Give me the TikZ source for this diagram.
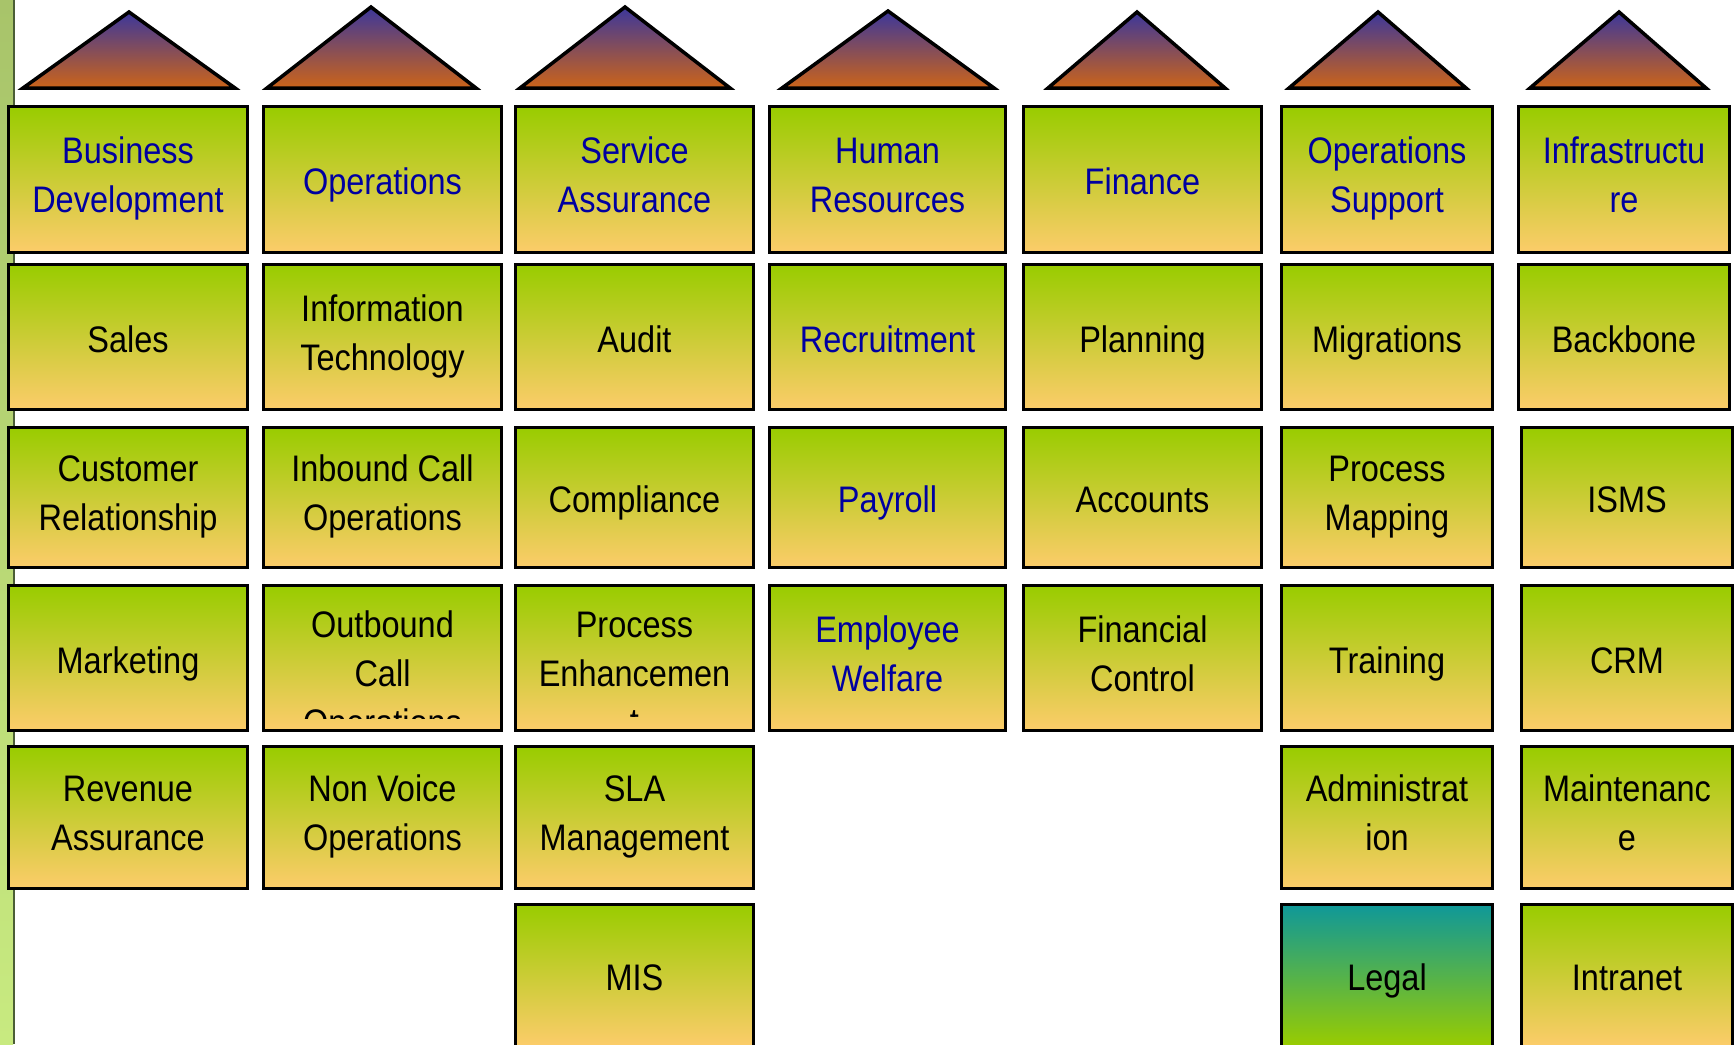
\documentclass[tikz,border=0pt]{standalone}
\usepackage{fontspec}
\setmainfont[FakeStretch=0.88]{Liberation Sans}

\definecolor{boxgreen}{RGB}{153,204,0}
\definecolor{boxsand}{RGB}{252,204,106}
\definecolor{roofblue}{RGB}{60,55,155}
\definecolor{rooforange}{RGB}{204,100,25}
\definecolor{legalteal}{RGB}{15,152,152}
\definecolor{labelblue}{RGB}{0,0,160}
\definecolor{stripgreen}{RGB}{168,196,106}
\definecolor{stripleaf}{RGB}{200,234,128}
\definecolor{stripedge}{RGB}{75,94,54}

\newcommand{\unitstrut}{\rule[-2.65pt]{0pt}{13.9pt}}

\tikzset{
    lbl/.style={align=center, inner sep=0pt, font=\fontsize{10.5}{13.9}\selectfont,
        execute at begin node=\unitstrut, execute at end node=\unitstrut},
    unit/.style={lbl, draw, line width=0.85pt, top color=boxgreen, bottom color=boxsand},
    head/.style={unit, text=labelblue},
    legalunit/.style={unit, top color=legalteal, bottom color=boxgreen},
    roof/.style={draw, line width=1pt, top color=roofblue, bottom color=rooforange},
    c1/.style={minimum width=2.38cm},
    c2/.style={minimum width=2.37cm},
    c3/.style={minimum width=2.37cm},
    c4/.style={minimum width=2.35cm},
    c5/.style={minimum width=2.37cm},
    c6/.style={minimum width=2.11cm},
    c7/.style={minimum width=2.11cm},
    r1/.style={minimum height=1.45cm},
    r2/.style={minimum height=1.44cm},
    r3/.style={minimum height=1.40cm},
    r4/.style={minimum height=1.44cm},
    r5/.style={minimum height=1.41cm},
    r6/.style={minimum height=1.41cm}
}

\begin{document}
\begin{tikzpicture}[x=0.01cm, y=-0.01cm]
        \clip (0,0) rectangle (1734,1044);
        \fill[white] (0,0) rectangle (1734,1044);

        % side strip
        \shade[top color=stripgreen, bottom color=stripleaf] (0,0) rectangle (13,1044);
        \draw[stripedge, line width=0.6pt] (14,0) -- (14,1044);

        % roofs
        \draw[roof] (23,88) -- (129,12) -- (235,88) -- cycle;
        \draw[roof] (267,88) -- (371,7) -- (476,88) -- cycle;
        \draw[roof] (520,88) -- (625,7) -- (730,88) -- cycle;
        \draw[roof] (782,88) -- (888,11) -- (994,88) -- cycle;
        \draw[roof] (1048,88) -- (1137,12) -- (1225,88) -- cycle;
        \draw[roof] (1289,88) -- (1378,12) -- (1466,88) -- cycle;
        \draw[roof] (1530,88) -- (1619,12) -- (1706,88) -- cycle;

        % heads
        \node[head, c1, r1] (bizdev) at (128,179.5) {Business\\Development};
        \node[head, c2, r1] (ops) at (382.5,179.5) {Operations};
        \node[head, c3, r1] (svcassur) at (634.5,179.5) {Service\\Assurance};
        \node[head, c4, r1] (hr) at (887.5,179.5) {Human\\Resources};
        \node[head, c5, r1] (finance) at (1142.5,179.5) {Finance};
        \node[head, c6, r1] (opssupport) at (1387,179.5) {Operations\\Support};
        \node[head, c7, r1] (infra) at (1624,179.5) {Infrastructu\\re};

        % second row
        \node[unit, c1, r2] (sales) at (128,337) {Sales};
        \node[unit, c2, r2] (infotech) at (382.5,337) {Information\\Technology};
        \node[unit, c3, r2] (audit) at (634.5,337) {Audit};
        \node[head, c4, r2] (recruit) at (887.5,337) {Recruitment};
        \node[unit, c5, r2] (planning) at (1142.5,337) {Planning};
        \node[unit, c6, r2] (migrations) at (1387,337) {Migrations};
        \node[unit, c7, r2] (backbone) at (1624,337) {Backbone};

        % third row
        \node[unit, c1, r3] (custrel) at (128,497.5) {Customer\\Relationship};
        \node[unit, c2, r3] (inbound) at (382.5,497.5) {Inbound Call\\Operations};
        \node[unit, c3, r3] (compliance) at (634.5,497.5) {Compliance};
        \node[head, c4, r3] (payroll) at (887.5,497.5) {Payroll};
        \node[unit, c5, r3] (accounts) at (1142.5,497.5) {Accounts};
        \node[unit, c6, r3] (procmap) at (1387,497.5) {Process\\Mapping};
        \node[unit, c7, r3] (isms) at (1627,497.5) {ISMS};

        % fourth row
        \node[unit, c1, r4] (marketing) at (128,658) {Marketing};
        \node[unit, c2, r4] (outbound) at (382.5,658) {};
        \begin{scope}
            \clip (264,586) rectangle (501,718);
            \node[lbl] (outboundtext) at (382.5,678) {Outbound\\Call\\Operations};
        \end{scope}
        \node[unit, c3, r4] (procenh) at (634.5,658) {};
        \begin{scope}
            \clip (516,586) rectangle (753,716);
            \node[lbl] (procenhtext) at (634.5,678) {Process\\Enhancemen\\t};
        \end{scope}
        \node[head, c4, r4] (welfare) at (887.5,658) {Employee\\Welfare};
        \node[unit, c5, r4] (finctrl) at (1142.5,658) {Financial\\Control};
        \node[unit, c6, r4] (training) at (1387,658) {Training};
        \node[unit, c7, r4] (crm) at (1627,658) {CRM};

        % fifth row
        \node[unit, c1, r5] (revassur) at (128,817.5) {Revenue\\Assurance};
        \node[unit, c2, r5] (nonvoice) at (382.5,817.5) {Non Voice\\Operations};
        \node[unit, c3, r5] (sla) at (634.5,817.5) {SLA\\Management};
        \node[unit, c6, r5] (admin) at (1387,817.5) {Administrat\\ion};
        \node[unit, c7, r5] (maint) at (1627,817.5) {Maintenanc\\e};

        % sixth row
        \node[unit, c3, r6] (mis) at (634.5,975.5) {MIS};
        \node[legalunit, c6, r6] (legal) at (1387,975.5) {Legal};
        \node[unit, c7, r6] (intranet) at (1627,975.5) {Intranet};
\end{tikzpicture}
\end{document}
